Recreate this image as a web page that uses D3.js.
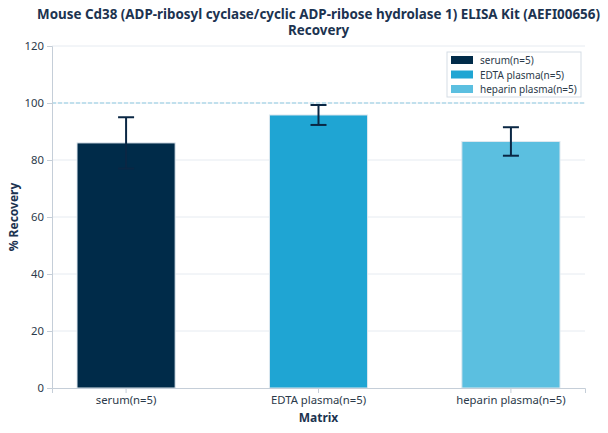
<!doctype html>
<html>
<head>
  <style>
    body { margin: 0; background: #fff; }
    svg { font-family: "Noto Sans", "Open Sans", sans-serif; }
  </style>
  <script src="https://cdn.jsdelivr.net/npm/d3@7"></script>
</head>
<body>
  <script>
  // data
  var categories = ["serum(n=5)", "EDTA plasma(n=5)", "heparin plasma(n=5)"];
  var recovery = [86, 95.8, 86.5];
  var errors = [9, 3.5, 5];
  var colors = ["#002b49", "#1fa5d3", "#5bbfe0"];
  var yTicks = [0, 20, 40, 60, 80, 100, 120];

  var W = 608, H = 433;
  var m = {top: 46, right: 23, bottom: 45, left: 52};

  var svg = d3.select("body").append("svg")
    .attr("width", W)
    .attr("height", H);

  var x = d3.scaleBand()
    .domain(categories)
    .range([m.left, W - m.right])
    .paddingInner(0.49)
    .paddingOuter(0.13);

  var y = d3.scaleLinear()
    .domain([0, 120])
    .range([H - m.bottom, m.top]);

  // grid lines
  svg.append("g")
    .selectAll("line")
    .data(yTicks.slice(1))
    .enter()
    .append("line")
    .attr("x1", m.left)
    .attr("x2", W - m.right)
    .attr("y1", function(d) { return y(d); })
    .attr("y2", function(d) { return y(d); })
    .attr("stroke", "#e6ebf1")
    .attr("stroke-width", 1);

  // 100% reference line
  svg.append("line")
    .attr("x1", m.left)
    .attr("x2", W - m.right)
    .attr("y1", y(100))
    .attr("y2", y(100))
    .attr("stroke", "#8fcbe2")
    .attr("stroke-dasharray", "4,2")
    .attr("stroke-width", 1);

  // bars
  svg.selectAll("rect.bar")
    .data(categories)
    .enter()
    .append("rect")
    .attr("class", "bar")
    .attr("x", function(d) { return x(d); })
    .attr("width", x.bandwidth())
    .attr("y", function(d, i) { return y(recovery[i]); })
    .attr("height", function(d, i) { return y(0) - y(recovery[i]); })
    .attr("fill", function(d, i) { return colors[i]; })
    .attr("stroke", "#dfe8ef")
    .attr("stroke-width", 1);

  // error bars
  var eb = svg.selectAll("g.err")
    .data(categories)
    .enter()
    .append("g")
    .attr("class", "err")
    .attr("stroke", "#0a2744")
    .attr("stroke-width", 2);

  eb.append("line")
    .attr("x1", function(d) { return x(d) + x.bandwidth() / 2; })
    .attr("x2", function(d) { return x(d) + x.bandwidth() / 2; })
    .attr("y1", function(d, i) { return y(recovery[i] - errors[i]); })
    .attr("y2", function(d, i) { return y(recovery[i] + errors[i]); });

  eb.selectAll("line.cap")
    .data(function(d, i) {
      return [recovery[i] - errors[i], recovery[i] + errors[i]].map(function(v) { return {c: d, v: v}; });
    })
    .enter()
    .append("line")
    .attr("class", "cap")
    .attr("x1", function(d) { return x(d.c) + x.bandwidth() / 2 - 8; })
    .attr("x2", function(d) { return x(d.c) + x.bandwidth() / 2 + 8; })
    .attr("y1", function(d) { return y(d.v); })
    .attr("y2", function(d) { return y(d.v); });

  // axes
  var yAxis = svg.append("g")
    .attr("transform", "translate(" + m.left + ",0)")
    .call(d3.axisLeft(y).tickValues(yTicks).tickSize(5).tickPadding(3));

  var xAxis = svg.append("g")
    .attr("transform", "translate(0," + y(0) + ")")
    .call(d3.axisBottom(x).tickSize(5).tickPadding(3));

  [xAxis, yAxis].forEach(function(a) {
    a.select(".domain").attr("stroke", "#c5ced8");
    a.selectAll(".tick line").attr("stroke", "#c5ced8");
    a.selectAll(".tick text")
      .attr("fill", "#2b3a4a")
      .attr("font-size", "11.3px")
      .attr("font-family", "'Noto Sans', sans-serif");
  });

  // titles
  var cx = (m.left + W - m.right) / 2;
  svg.append("text")
    .attr("x", cx).attr("y", 19)
    .attr("text-anchor", "middle")
    .attr("font-size", "13.4px").attr("font-weight", "bold")
    .attr("fill", "#1c3350")
    .text("Mouse Cd38 (ADP-ribosyl cyclase/cyclic ADP-ribose hydrolase 1) ELISA Kit (AEFI00656)");
  svg.append("text")
    .attr("x", cx).attr("y", 35)
    .attr("text-anchor", "middle")
    .attr("font-size", "13.4px").attr("font-weight", "bold")
    .attr("fill", "#1c3350")
    .text("Recovery");

  svg.append("text")
    .attr("x", cx).attr("y", 422)
    .attr("text-anchor", "middle")
    .attr("font-size", "12px").attr("font-weight", "bold")
    .attr("fill", "#1c3350")
    .text("Matrix");

  svg.append("text")
    .attr("transform", "translate(18," + ((m.top + H - m.bottom) / 2) + ") rotate(-90)")
    .attr("text-anchor", "middle")
    .attr("font-size", "12px").attr("font-weight", "bold")
    .attr("fill", "#1c3350")
    .text("% Recovery");

  // legend
  var lg = svg.append("g").attr("transform", "translate(447,52)");
  lg.append("rect")
    .attr("width", 134).attr("height", 45)
    .attr("fill", "#fff")
    .attr("stroke", "#d5dde5");
  var item = lg.selectAll("g.item")
    .data(categories)
    .enter()
    .append("g")
    .attr("class", "item")
    .attr("transform", function(d, i) { return "translate(4," + (4 + i * 14.5) + ")"; });
  item.append("rect")
    .attr("width", 22).attr("height", 8)
    .attr("fill", function(d, i) { return colors[i]; });
  item.append("text")
    .attr("x", 29).attr("y", 8)
    .attr("font-size", "10px")
    .attr("fill", "#2b3a4a")
    .text(function(d) { return d; });
  </script>
</body>
</html>
